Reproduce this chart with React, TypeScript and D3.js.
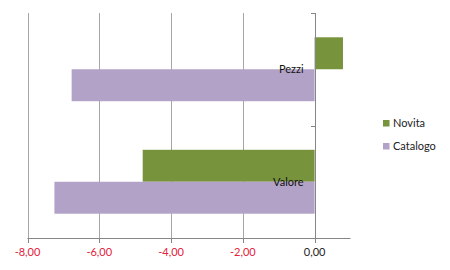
import React from "react";
import * as d3 from "d3";

const categories = ["Pezzi", "Valore"];
const seriesNames = ["Novita", "Catalogo"];
const novita = [0.79, -4.79];
const catalogo = [-6.77, -7.25];
const xTicks = [-8, -6, -4, -2, 0];
const colors = ["#77933c", "#b3a2c7"];

const W = 450, H = 270;
const left = 27.5, right = 350.5, top = 13, bottom = 238;
const font = "Lato, 'Open Sans', sans-serif";

export default function App() {
  const x = d3.scaleLinear().domain([-8, 1]).range([left, right]);
  const y0 = d3.scaleBand().domain(categories).range([top, bottom]);
  const inner = d3.scaleBand().domain(seriesNames).range([0, y0.bandwidth()]).paddingOuter(0.76).paddingInner(0);
  const series = [novita, catalogo];
  const fmt = (v: number) => v.toFixed(2).replace(".", ",");
  return (
    <svg width={W} height={H} style={{ position: "absolute", left: 0, top: 0, background: "#fff" }}>
      {xTicks.slice(0, -1).map((t) => (
        <line key={"g" + t} x1={Math.round(x(t)) + 0.5} x2={Math.round(x(t)) + 0.5} y1={top} y2={bottom} stroke="#a6a6a6" strokeWidth={1} />
      ))}
      {categories.map((c, ci) =>
        seriesNames.map((s, si) => {
          const v = series[si][ci];
          const yy = (y0(c) as number) + (inner(s) as number);
          return (
            <rect key={c + s} x={x(Math.min(0, v))} width={Math.abs(x(v) - x(0))} y={yy} height={inner.bandwidth()} fill={colors[si]} />
          );
        })
      )}
      <line x1={left} x2={right} y1={bottom + 0.5} y2={bottom + 0.5} stroke="#868686" />
      <line x1={Math.round(x(0)) + 0.5} x2={Math.round(x(0)) + 0.5} y1={top} y2={bottom} stroke="#868686" />
      {xTicks.map((t) => (
        <line key={"t" + t} x1={Math.round(x(t)) + 0.5} x2={Math.round(x(t)) + 0.5} y1={bottom} y2={bottom + 5} stroke="#868686" />
      ))}
      {[top, (top + bottom) / 2, bottom].map((yy, i) => (
        <line key={"yt" + i} x1={Math.round(x(0)) - 4} x2={Math.round(x(0)) + 0.5} y1={Math.round(yy) + 0.5} y2={Math.round(yy) + 0.5} stroke="#868686" />
      ))}
      {xTicks.map((t) => (
        <text key={"l" + t} x={x(t)} y={256} textAnchor="middle" fontFamily={font} fontSize={11} fill={t < 0 ? "#e3213b" : "#222"}>
          {fmt(t)}
        </text>
      ))}
      {categories.map((c) => (
        <text key={"c" + c} x={x(0) - 11} y={(y0(c) as number) + y0.bandwidth() / 2 + 4} textAnchor="end" fontFamily={font} fontSize={11} fill="#111">
          {c}
        </text>
      ))}
      {seriesNames.map((s, i) => (
        <g key={"lg" + s} transform={`translate(383, ${123 + i * 23})`}>
          <rect x={0} y={-3} width={6.5} height={6.5} fill={colors[i]} />
          <text x={10} y={4} fontFamily={font} fontSize={11} fill="#222">{s}</text>
        </g>
      ))}
    </svg>
  );
}
